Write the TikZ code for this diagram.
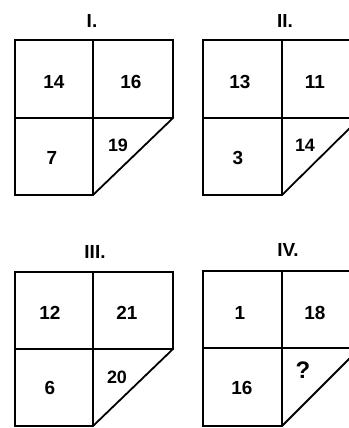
\documentclass[tikz,border=0pt]{standalone}
\usepackage{fontspec}
\setmainfont{Liberation Sans}
\begin{document}
\begin{tikzpicture}[x=1bp,y=-1bp,
  frame/.style={line width=1.8bp,line join=miter},
  num/.style={font=\bfseries\fontsize{19}{19}\selectfont},
  small/.style={font=\bfseries\fontsize{18}{18}\selectfont},
  ttl/.style={font=\bfseries\fontsize{19}{19}\selectfont}]
\useasboundingbox (0,0) rectangle (349,428);
\clip (0,0) rectangle (349,428);
\newcommand\panelbox[6]{%
  \draw[frame] (#1,#2) -- (#4,#2) -- (#4,#5) -- (#3,#6) -- (#1,#6) -- cycle;
  \draw[frame] (#3,#2) -- (#3,#6);
  \draw[frame] (#1,#5) -- (#4,#5);}
% Panel I
\panelbox{15}{40}{93}{173}{118}{195}
\node[ttl] (t1) at (92,21) {I.};
\node[num] (a1) at (54,82) {14};
\node[num] (b1) at (131,82) {16};
\node[num] (c1) at (52,158) {7};
\node[small] (d1) at (118,145) {19};
% Panel II
\panelbox{203}{40}{282}{360}{118}{195}
\node[ttl] (t2) at (285,21) {II.};
\node[num] (a2) at (240,82) {13};
\node[num] (b2) at (315,82) {11};
\node[num] (c2) at (238,158) {3};
\node[small] (d2) at (305,145) {14};
% Panel III
\panelbox{15}{272}{93}{173}{349}{426}
\node[ttl] (t3) at (95,252) {III.};
\node[num] (a3) at (50,313) {12};
\node[num] (b3) at (127,313) {21};
\node[num] (c3) at (50,388) {6};
\node[small] (d3) at (117,377) {20};
% Panel IV
\panelbox{203}{271}{282}{360}{348}{426}
\node[ttl] (t4) at (288,250) {IV.};
\node[num] (a4) at (240,313) {1};
\node[num] (b4) at (315,313) {18};
\node[num] (c4) at (242,388) {16};
\node[font=\bfseries\fontsize{24}{24}\selectfont] (d4) at (303,370) {?};
\end{tikzpicture}
\end{document}
